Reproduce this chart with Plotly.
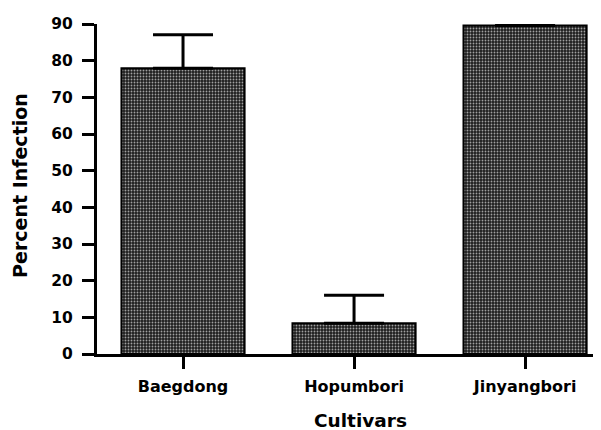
import plotly.graph_objects as go

categories = ["Baegdong", "Hopumbori", "Jinyangbori"]
values = [77.9, 8.4, 89.6]
errors = [9.2, 7.6, 0.5]
y_ticks = [0, 10, 20, 30, 40, 50, 60, 70, 80, 90]

font = "DejaVu Sans, sans-serif"

fig = go.Figure()
fig.add_trace(go.Bar(
    x=categories,
    y=values,
    width=0.72,
    marker=dict(
        color="#222222",
        line=dict(color="black", width=2),
        pattern=dict(shape=".", bgcolor="#1e1e1e", fgcolor="#a0a0a0",
                     size=3, solidity=0.3, fillmode="replace"),
    ),
    error_y=dict(type="data", symmetric=False, array=errors,
                 arrayminus=[0, 0, 0], color="black", thickness=3, width=30),
))

# page body has an 8px margin, so the figure is sized to fit the 601x430 window
fig.update_layout(
    width=593, height=422,
    margin=dict(l=89, r=0, t=16, b=76),
    plot_bgcolor="white", paper_bgcolor="white",
    showlegend=False,
    font=dict(family=font, color="black"),
    annotations=[
        dict(text="<b>Cultivars</b>", xref="paper", yref="paper",
             x=0.522, y=-0.203, xanchor="center", yanchor="middle",
             showarrow=False, font=dict(family=font, size=18.5, color="black")),
        dict(text="<b>Percent Infection</b>", xref="paper", yref="paper",
             x=-0.153, y=0.512, xanchor="center", yanchor="middle", textangle=-90,
             showarrow=False, font=dict(family=font, size=19, color="black")),
    ],
)
fig.update_xaxes(
    type="category",
    range=[-0.503, 2.444],
    automargin=False,
    showline=True, linecolor="black", linewidth=3,
    ticks="outside", ticklen=12, tickwidth=3, tickcolor="black",
    ticklabelstandoff=4,
    tickfont=dict(family=font, size=16, color="black", weight="bold"),
    showgrid=False, zeroline=False,
)
fig.update_yaxes(
    range=[0, 90],
    automargin=False,
    tickvals=y_ticks,
    showline=True, linecolor="black", linewidth=3,
    ticks="outside", ticklen=12, tickwidth=3, tickcolor="black",
    ticklabelstandoff=6,
    tickfont=dict(family=font, size=15.5, color="black", weight="bold"),
    showgrid=False, zeroline=False,
)

fig.write_html("out.html")
